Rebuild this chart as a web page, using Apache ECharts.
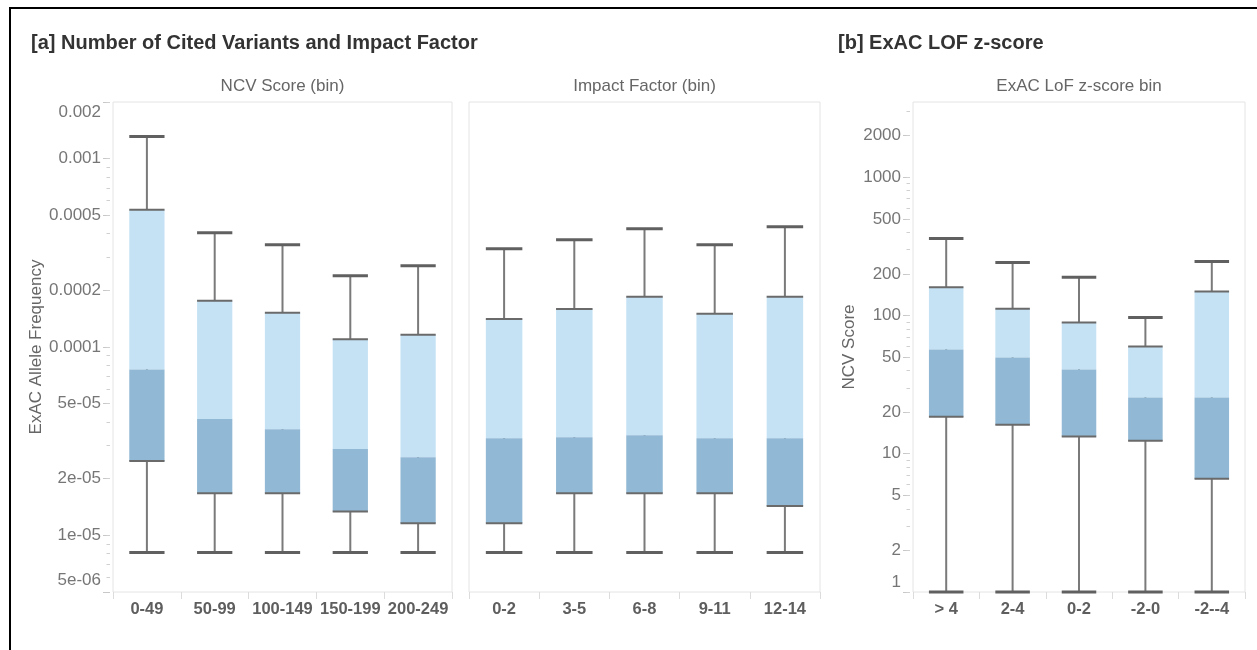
<!DOCTYPE html>
<html><head><meta charset="utf-8">
<script src="https://cdn.jsdelivr.net/npm/echarts@6/dist/echarts.min.js"></script>
<style>html,body{margin:0;padding:0;background:#fff}#chart{width:1257px;height:650px}</style>
</head><body><div id="chart"></div>
<script>
// ---- Panel [a] left: NCV Score (bin) ----
const catsA = ['0-49', '50-99', '100-149', '150-199', '200-249'];
const minA = [8.1e-6, 8.1e-6, 8.1e-6, 8.1e-6, 8.1e-6];
const q1A  = [2.48e-5, 1.67e-5, 1.67e-5, 1.34e-5, 1.16e-5];
const medA = [7.6e-5, 4.14e-5, 3.66e-5, 2.87e-5, 2.6e-5];
const q3A  = [5.35e-4, 1.76e-4, 1.52e-4, 1.10e-4, 1.16e-4];
const maxA = [1.31e-3, 4.04e-4, 3.49e-4, 2.39e-4, 2.70e-4];

// ---- Panel [a] right: Impact Factor (bin) ----
const catsB = ['0-2', '3-5', '6-8', '9-11', '12-14'];
const minB = [8.1e-6, 8.1e-6, 8.1e-6, 8.1e-6, 8.1e-6];
const q1B  = [1.16e-5, 1.67e-5, 1.67e-5, 1.67e-5, 1.43e-5];
const medB = [3.28e-5, 3.32e-5, 3.4e-5, 3.28e-5, 3.28e-5];
const q3B  = [1.41e-4, 1.59e-4, 1.85e-4, 1.50e-4, 1.85e-4];
const maxB = [3.32e-4, 3.71e-4, 4.24e-4, 3.49e-4, 4.35e-4];

// ---- Panel [b]: ExAC LoF z-score bin ----
const catsC = ['> 4', '2-4', '0-2', '-2-0', '-2--4'];
const minC = [1, 1, 1, 1, 1];
const q1C  = [18.5, 16.2, 13.3, 12.4, 6.6];
const medC = [56.7, 49.6, 40.6, 25.5, 25.5];
const q3C  = [160, 112, 89, 59.6, 149];
const maxC = [361, 242, 189, 96.8, 246];

// ---- tick labels ----
const tickValsA = [5e-6, 1e-5, 2e-5, 5e-5, 1e-4, 2e-4, 5e-4, 1e-3, 2e-3];
const tickLabelsA = ['5e-06', '1e-05', '2e-05', '5e-05', '0.0001', '0.0002', '0.0005', '0.001', '0.002'];
const tickValsC = [1, 2, 5, 10, 20, 50, 100, 200, 500, 1000, 2000];
const tickLabelsC = ['1', '2', '5', '10', '20', '50', '100', '200', '500', '1000', '2000'];

const axisMinA = 5e-6, axisMaxA = 2e-3;
const axisMinC = 1, axisMaxC = 3500;

function minorTicks(lo, hi, e0, e1) {
  const out = [];
  for (let e = e0; e <= e1; e++) for (let k = 1; k <= 9; k++) {
    const v = k * Math.pow(10, e);
    if (v >= lo * 0.9999 && v <= hi * 1.0001) out.push(v);
  }
  return out;
}

const FONT = '"Liberation Sans", Arial, Helvetica, sans-serif';

function labelFormatter(vals, labels, topIdx, botIdx) {
  return function (v) {
    for (let i = 0; i < vals.length; i++) {
      if (Math.abs(v - vals[i]) / vals[i] < 1e-6) {
        const key = i === topIdx ? 't' : (i === botIdx ? 'b' : 'n');
        return '{' + key + '|' + labels[i] + '}';
      }
    }
    return '';
  };
}
function richFor(bottomPad, topPad) {
  const base = { fontSize: 17, color: '#767676', fontFamily: FONT };
  return {
    n: Object.assign({}, base),
    t: Object.assign({ padding: [topPad, 0, 0, 0] }, base),
    b: Object.assign({ padding: [0, 0, bottomPad, 0] }, base)
  };
}

function boxData(mn, q1, md, q3, mx) {
  return mn.map((_, i) => [i, mn[i], q1[i], md[i], q3[i], mx[i]]);
}

function renderBox(params, api) {
  const x = api.value(0);
  const pMin = api.coord([x, api.value(1)]);
  const pQ1 = api.coord([x, api.value(2)]);
  const pMed = api.coord([x, api.value(3)]);
  const pQ3 = api.coord([x, api.value(4)]);
  const pMax = api.coord([x, api.value(5)]);
  const band = api.size([1, 0], [x, api.value(3)])[0];
  const bw = band * 0.52;
  const cx = pMin[0];
  const l = cx - bw / 2;
  return {
    type: 'group',
    children: [
      { type: 'line', shape: { x1: cx, y1: pMax[1], x2: cx, y2: pMin[1] }, style: { stroke: '#7a7a7a', lineWidth: 2 } },
      { type: 'rect', shape: { x: l, y: pQ3[1], width: bw, height: pMed[1] - pQ3[1] }, style: { fill: '#c5e2f5' } },
      { type: 'rect', shape: { x: l, y: pMed[1], width: bw, height: pQ1[1] - pMed[1] }, style: { fill: '#91b8d4' } },
      { type: 'line', shape: { x1: l, y1: pQ3[1], x2: l + bw, y2: pQ3[1] }, style: { stroke: '#6a6a6a', lineWidth: 2 } },
      { type: 'line', shape: { x1: l, y1: pQ1[1], x2: l + bw, y2: pQ1[1] }, style: { stroke: '#6a6a6a', lineWidth: 2 } },
      { type: 'line', shape: { x1: l, y1: pMax[1], x2: l + bw, y2: pMax[1] }, style: { stroke: '#606060', lineWidth: 3 } },
      { type: 'line', shape: { x1: l, y1: pMin[1], x2: l + bw, y2: pMin[1] }, style: { stroke: '#606060', lineWidth: 3 } }
    ]
  };
}

function catAxis(gridIndex, cats) {
  return {
    type: 'category', gridIndex: gridIndex, data: cats,
    axisLine: { show: false },
    axisTick: { show: true, length: 7, interval: 0, lineStyle: { color: '#dcdcdc', width: 1 } },
    axisLabel: { interval: 0, margin: 9, fontSize: 16.5, fontWeight: 'bold', color: '#5e5e5e', fontFamily: FONT },
    splitLine: { show: false }
  };
}

const chart = echarts.init(document.getElementById('chart'), null, { renderer: 'canvas' });
const option = {
  animation: false,
  backgroundColor: '#ffffff',
  graphic: [
    { type: 'rect', shape: { x: 10, y: 8, width: 1300, height: 700 }, style: { fill: 'none', stroke: '#000', lineWidth: 2 }, silent: true },
    { type: 'text', x: 31, y: 43, style: { text: '[a] Number of Cited Variants and Impact Factor', font: 'bold 20px ' + FONT, fill: '#333', align: 'left', verticalAlign: 'middle' } },
    { type: 'text', x: 838, y: 43, style: { text: '[b] ExAC LOF z-score', font: 'bold 20px ' + FONT, fill: '#333', align: 'left', verticalAlign: 'middle' } },
    { type: 'text', x: 282.5, y: 86, style: { text: 'NCV Score (bin)', font: '17px ' + FONT, fill: '#666', align: 'center', verticalAlign: 'middle' } },
    { type: 'text', x: 644.5, y: 86, style: { text: 'Impact Factor (bin)', font: '17px ' + FONT, fill: '#666', align: 'center', verticalAlign: 'middle' } },
    { type: 'text', x: 1079, y: 86, style: { text: 'ExAC LoF z-score bin', font: '17px ' + FONT, fill: '#666', align: 'center', verticalAlign: 'middle' } }
  ],
  grid: [
    { left: 113, top: 102, width: 339, height: 490, show: true, borderColor: '#e4e4e4', borderWidth: 1, backgroundColor: 'transparent' },
    { left: 469, top: 102, width: 351, height: 490, show: true, borderColor: '#e4e4e4', borderWidth: 1, backgroundColor: 'transparent' },
    { left: 913, top: 102, width: 332, height: 490, show: true, borderColor: '#e4e4e4', borderWidth: 1, backgroundColor: 'transparent' }
  ],
  xAxis: [catAxis(0, catsA), catAxis(1, catsB), catAxis(2, catsC)],
  yAxis: [
    {
      type: 'log', logBase: 10, gridIndex: 0, min: axisMinA, max: axisMaxA, position: 'left', offset: 3,
      name: 'ExAC Allele Frequency', nameLocation: 'middle', nameGap: 64,
      nameTextStyle: { fontSize: 17, color: '#666', fontFamily: FONT },
      axisLine: { show: false },
      axisTick: { show: true, length: 7, customValues: tickValsA, lineStyle: { color: '#c8c8c8' } },
      axisLabel: { show: true, margin: 9, customValues: tickValsA, formatter: labelFormatter(tickValsA, tickLabelsA, tickValsA.length - 1, 0), rich: richFor(24, 20) },
      splitLine: { show: false }, minorTick: { show: false }
    },
    {
      type: 'log', logBase: 10, gridIndex: 0, min: axisMinA, max: axisMaxA, position: 'left', offset: 3,
      axisLine: { show: false }, axisLabel: { show: false },
      axisTick: { show: true, length: 3.5, customValues: minorTicks(axisMinA, axisMaxA, -6, -3), lineStyle: { color: '#d0d0d0' } },
      splitLine: { show: false }
    },
    {
      type: 'log', logBase: 10, gridIndex: 1, min: axisMinA, max: axisMaxA, position: 'left',
      axisLine: { show: false }, axisLabel: { show: false }, axisTick: { show: false }, splitLine: { show: false }
    },
    {
      type: 'log', logBase: 10, gridIndex: 2, min: axisMinC, max: axisMaxC, position: 'left', offset: 3,
      name: 'NCV Score', nameLocation: 'middle', nameGap: 52,
      nameTextStyle: { fontSize: 17, color: '#666', fontFamily: FONT },
      axisLine: { show: false },
      axisTick: { show: true, length: 7, customValues: tickValsC, lineStyle: { color: '#c8c8c8' } },
      axisLabel: { show: true, margin: 9, customValues: tickValsC, formatter: labelFormatter(tickValsC, tickLabelsC, -1, 0), rich: richFor(20, 0) },
      splitLine: { show: false }, minorTick: { show: false }
    },
    {
      type: 'log', logBase: 10, gridIndex: 2, min: axisMinC, max: axisMaxC, position: 'left', offset: 3,
      axisLine: { show: false }, axisLabel: { show: false },
      axisTick: { show: true, length: 3.5, customValues: minorTicks(axisMinC, axisMaxC, 0, 3), lineStyle: { color: '#d0d0d0' } },
      splitLine: { show: false }
    }
  ],
  series: [
    { type: 'custom', xAxisIndex: 0, yAxisIndex: 0, renderItem: renderBox, encode: { x: 0, y: [1, 2, 3, 4, 5] }, data: boxData(minA, q1A, medA, q3A, maxA) },
    { type: 'custom', xAxisIndex: 1, yAxisIndex: 2, renderItem: renderBox, encode: { x: 0, y: [1, 2, 3, 4, 5] }, data: boxData(minB, q1B, medB, q3B, maxB) },
    { type: 'custom', xAxisIndex: 2, yAxisIndex: 3, renderItem: renderBox, encode: { x: 0, y: [1, 2, 3, 4, 5] }, data: boxData(minC, q1C, medC, q3C, maxC) }
  ]
};
chart.setOption(option);
</script>
</body></html>
